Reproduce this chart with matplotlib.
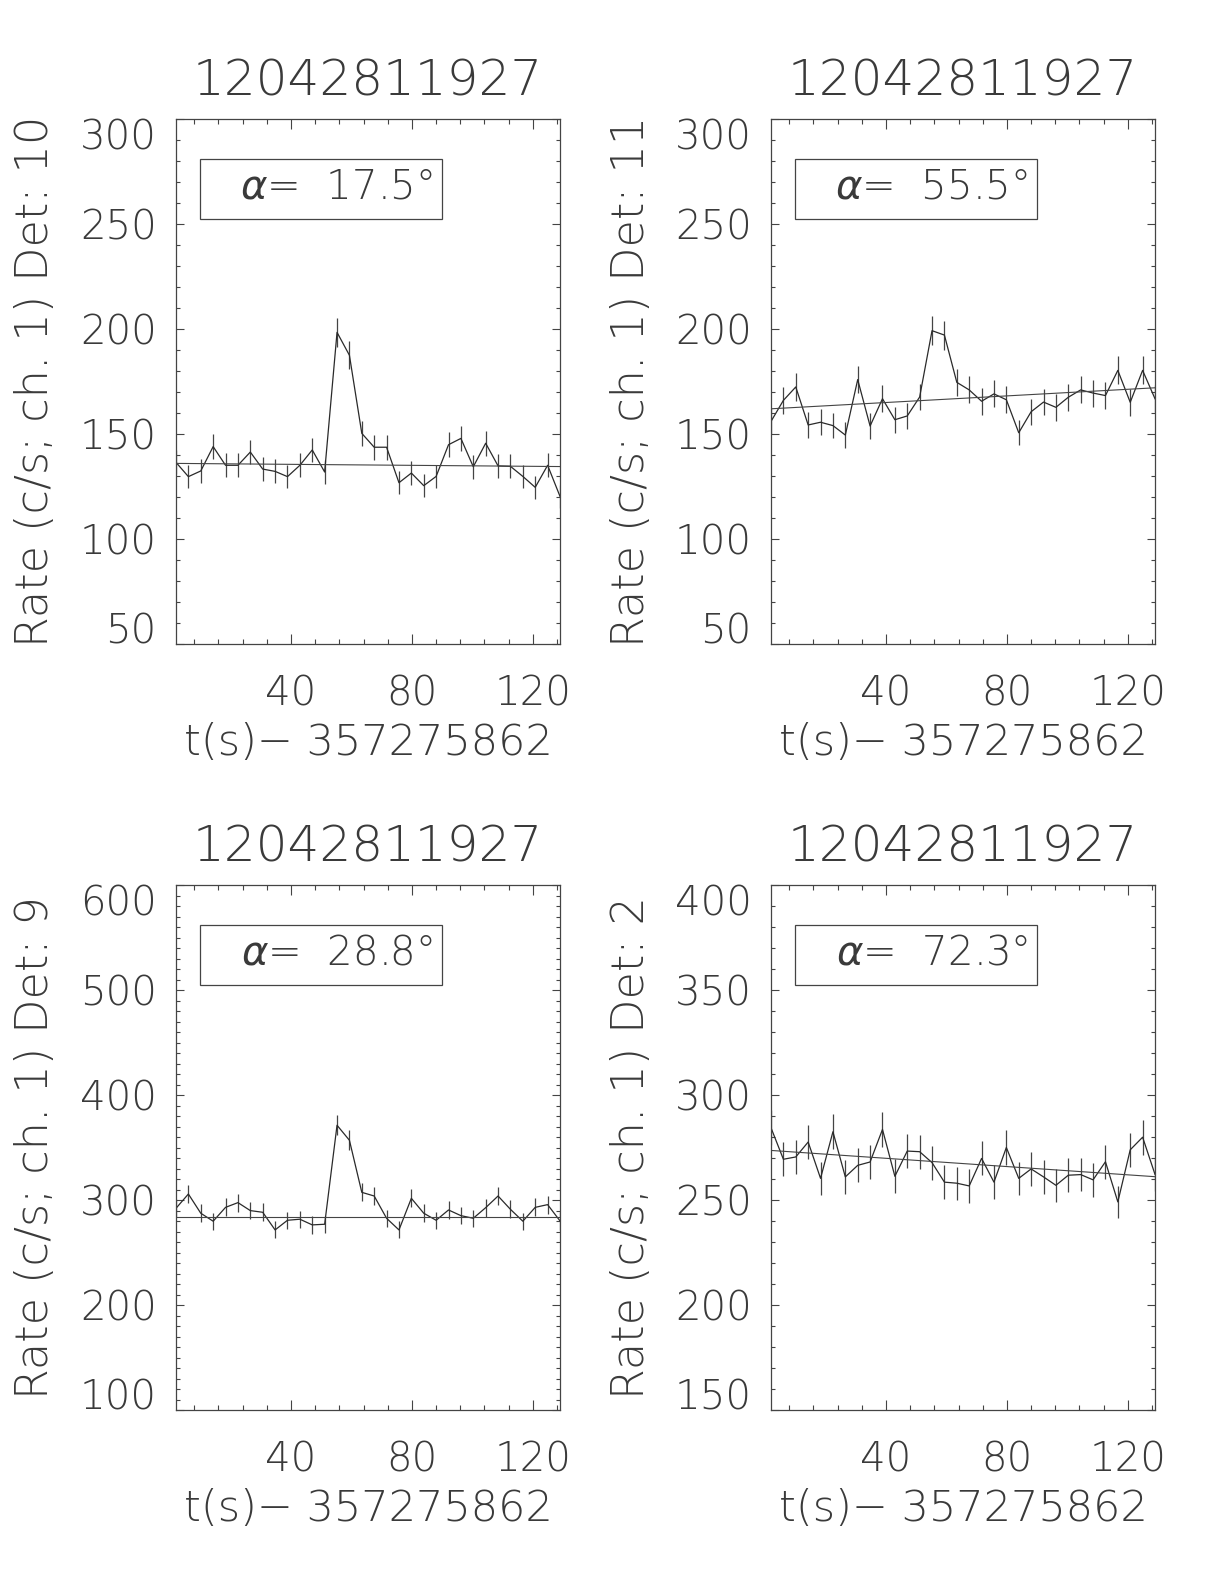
import numpy as np
import matplotlib.pyplot as plt
from matplotlib.ticker import MultipleLocator
from matplotlib.patches import Rectangle

plt.rcParams['font.family'] = ['DejaVu Sans']
plt.rcParams['font.weight'] = 'light'
plt.rcParams['mathtext.fontset'] = 'custom'
plt.rcParams['mathtext.it'] = 'DejaVu Sans:italic:light'
plt.rcParams['mathtext.rm'] = 'DejaVu Sans:light'

# time bins (s) after 357275862
dt = 4.096
t = 2.0 + dt * np.arange(32)

title = '12042811927'
xlabel = 't(s)\u2212 357275862'

# detector 10
rate_10 = [136.5, 129.7, 132.4, 144.0, 135.1, 135.1, 141.4, 133.3, 132.2, 129.7,
           135.1, 142.4, 131.9, 198.4, 187.5, 150.3, 143.7, 143.7, 126.8, 131.4,
           125.4, 129.8, 144.9, 147.9, 134.4, 145.6, 134.8, 134.6, 129.8, 124.6,
           135.1, 120.3]
# detector 11
rate_11 = [156.0, 166.0, 172.4, 154.3, 155.6, 154.0, 149.5, 175.9, 153.8, 166.8,
           156.8, 158.6, 167.6, 199.2, 197.1, 174.6, 171.0, 165.6, 169.1, 166.3,
           150.6, 160.6, 165.2, 162.7, 167.5, 171.0, 169.5, 168.3, 180.3, 165.1,
           180.3, 166.8]
# detector 9
rate_9 = [292.1, 305.7, 287.4, 279.8, 293.0, 297.5, 289.9, 288.3, 271.5, 280.7,
          281.7, 276.3, 276.9, 371.2, 356.9, 307.3, 303.8, 282.6, 271.5, 301.6,
          287.4, 280.7, 290.5, 285.1, 282.6, 292.7, 303.8, 291.1, 279.8, 293.0,
          295.6, 280.1]
# detector 2
rate_2 = [284.4, 269.4, 270.5, 277.6, 260.3, 282.5, 261.0, 266.5, 268.1, 283.6,
          261.3, 273.3, 273.0, 267.8, 258.5, 258.0, 256.7, 269.8, 258.5, 275.0,
          260.3, 264.8, 261.0, 257.0, 261.8, 262.1, 259.6, 268.2, 249.1, 273.9,
          279.9, 262.2]

detectors = ['10', '11', '9', '2']
rates = [rate_10, rate_11, rate_9, rate_2]
alphas = ['17.5', '55.5', '28.8', '72.3']
fit_start = [136.0, 162.0, 284.0, 273.6]
fit_end = [134.5, 172.0, 284.0, 261.1]
ylims = [(50, 300), (50, 300), (100, 600), (150, 400)]
ymajor = [50, 50, 100, 50]

W, H = 1224, 1584
ax_w, ax_h = 384, 525
lefts = [176, 771, 176, 771]
bottoms = [644, 644, 1410, 1410]

fig = plt.figure(figsize=(W / 100, H / 100), dpi=100)
ink = '#2a2a2a'
txt = '#3a3a3a'

for i in range(4):
    ax = fig.add_axes([lefts[i] / W, 1 - bottoms[i] / H, ax_w / W, ax_h / H])
    r = np.array(rates[i])
    err = np.sqrt(r * dt) / dt
    ax.vlines(t, r - err, r + err, color='#444444', lw=0.9)
    ax.plot(t, r, color=ink, lw=0.9)
    ax.plot([t[0], t[-1]], [fit_start[i], fit_end[i]], color='#444444', lw=0.8)

    lo, hi = ylims[i]
    ax.set_xlim(t[0], t[-1])
    ax.set_ylim(lo, hi)
    ax.set_xticks([40, 80, 120])
    ax.xaxis.set_minor_locator(MultipleLocator(8))
    ax.set_yticks(np.arange(lo, hi + 1, ymajor[i]))
    ax.yaxis.set_minor_locator(MultipleLocator(10))
    ax.tick_params(which='both', direction='in', top=True, right=True,
                   colors='#444444', labelcolor=txt, labelsize=29, width=0.8)
    ax.tick_params(axis='x', which='major', length=7.2, pad=22)
    ax.tick_params(axis='x', which='minor', length=3.6)
    ax.tick_params(axis='y', which='major', length=5.8, pad=14)
    ax.tick_params(axis='y', which='minor', length=2.9)
    for s in ax.spines.values():
        s.set_color('#444444')
        s.set_linewidth(0.9)

    yt = ax.yaxis.get_major_ticks()
    yt[0].label1.set_va('baseline')
    yt[-1].label1.set_va('top')

    ax.text(0.5, 1 + 38 / ax_h, title, transform=ax.transAxes, ha='center',
            va='center', fontsize=36, color=txt)
    ax.text(0.5, -99 / ax_h, xlabel, transform=ax.transAxes, ha='center',
            va='center', fontsize=31, color=txt)
    ax.text(-140 / ax_w, 0.5, 'Rate (c/s; ch. 1) Det: ' + detectors[i],
            transform=ax.transAxes, ha='center', va='center', rotation=90,
            fontsize=32, color=txt)

    ax.add_patch(Rectangle((24 / ax_w, 1 - 100 / ax_h), 242 / ax_w, 60 / ax_h,
                           transform=ax.transAxes, fill=False, ec='#444444', lw=0.9))
    ax.text(0.418, 1 - 68 / ax_h, r'$\alpha$=  ' + alphas[i] + '\u00b0',
            transform=ax.transAxes, ha='center', va='center', fontsize=29,
            color=txt)

fig.savefig('out.png', dpi=100)
